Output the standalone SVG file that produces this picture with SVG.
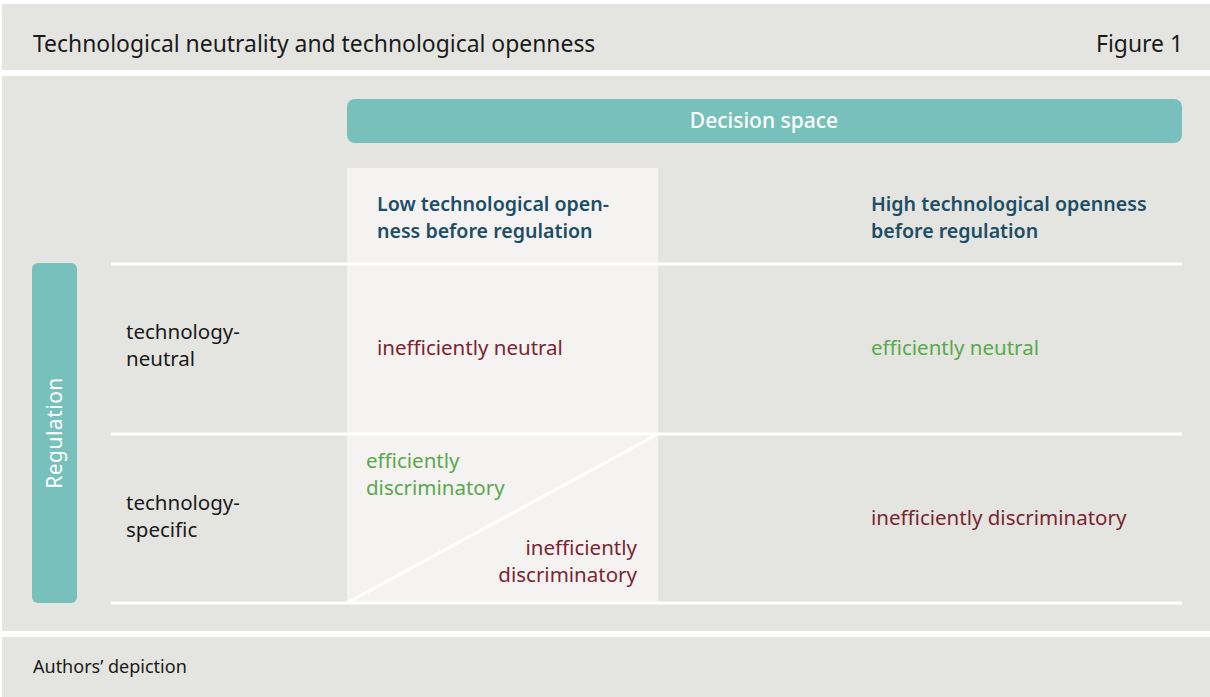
<svg xmlns="http://www.w3.org/2000/svg" width="1210" height="697" viewBox="0 0 1210 697">
<style>
text{font-family:"Noto Sans","Open Sans","Liberation Sans",sans-serif;}
.t{font-size:22.9px;fill:#1a1a1a;}
.h{font-size:19.6px;font-weight:600;fill:#1e4d66;}
.b{font-size:20.5px;fill:#1a1a1a;}
.r{font-size:20.5px;fill:#7a2530;}
.g{font-size:20.5px;fill:#5aa84e;}
.w{font-size:21px;font-weight:500;fill:#ffffff;}
.sep{stroke:#ffffff;stroke-width:3;}
</style>
<rect x="0" y="0" width="1210" height="697" fill="#ffffff"/>
<rect x="2" y="4" width="1208" height="66" fill="#e4e4e0"/>
<rect x="2" y="76" width="1208" height="555" fill="#e4e4e0"/>
<rect x="2" y="637" width="1208" height="60" fill="#e4e4e0"/>
<g id="title">
<text class="t" x="33" y="52">Technological neutrality and technological openness</text>
<text class="t" x="1183" y="52" text-anchor="end">Figure 1</text>
</g>
<rect x="347" y="168" width="311" height="435" fill="#f4f3f1"/>
<g id="decision-space">
<rect x="347" y="99" width="835" height="44" rx="8" fill="#78c0bb"/>
<text class="w" x="764" y="128" text-anchor="middle">Decision space</text>
</g>
<g id="regulation">
<rect x="32" y="263" width="45" height="340" rx="6" fill="#78c0bb"/>
<text class="w" transform="translate(62,433) rotate(-90)" text-anchor="middle" style="font-weight:400;letter-spacing:0.5px">Regulation</text>
</g>
<g id="connectors">
<line class="sep" x1="111" y1="264" x2="1182" y2="264"/>
<line class="sep" x1="111" y1="434" x2="1182" y2="434"/>
<line class="sep" x1="111" y1="603" x2="1182" y2="603"/>
<line class="sep" x1="347" y1="603" x2="658" y2="434" stroke-width="2"/>
</g>
<g id="col-low">
<text class="h" x="377" y="211">Low technological open-</text>
<text class="h" x="377" y="238">ness before regulation</text>
</g>
<g id="col-high">
<text class="h" x="871" y="211">High technological openness</text>
<text class="h" x="871" y="238">before regulation</text>
</g>
<g id="row-neutral">
<text class="b" x="126" y="339">technology-</text>
<text class="b" x="126" y="366">neutral</text>
</g>
<g id="row-specific">
<text class="b" x="126" y="510">technology-</text>
<text class="b" x="126" y="537">specific</text>
</g>
<g id="cell-ineff-neutral"><text class="r" x="377" y="355">inefficiently neutral</text></g>
<g id="cell-eff-neutral"><text class="g" x="871" y="355">efficiently neutral</text></g>
<g id="cell-eff-discr">
<text class="g" x="366" y="468">efficiently</text>
<text class="g" x="366" y="495">discriminatory</text>
</g>
<g id="cell-ineff-discr-low">
<text class="r" x="637" y="555" text-anchor="end">inefficiently</text>
<text class="r" x="637" y="582" text-anchor="end">discriminatory</text>
</g>
<g id="cell-ineff-discr-high"><text class="r" x="871" y="525">inefficiently discriminatory</text></g>
<g id="source"><text class="b" x="33" y="673" style="font-size:18px">Authors’ depiction</text></g>
</svg>
